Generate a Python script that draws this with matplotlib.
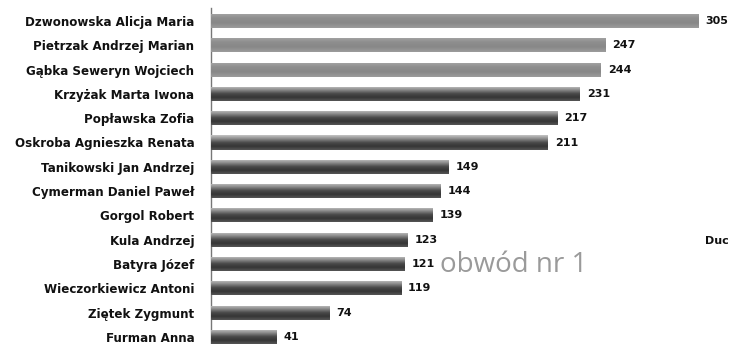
import matplotlib
matplotlib.use("Agg")
import matplotlib.pyplot as plt
import numpy as np
from matplotlib.colors import LinearSegmentedColormap

names = ["Dzwonowska Alicja Maria", "Pietrzak Andrzej Marian", "Gąbka Seweryn Wojciech",
         "Krzyżak Marta Iwona", "Popławska Zofia", "Oskroba Agnieszka Renata",
         "Tanikowski Jan Andrzej", "Cymerman Daniel Paweł", "Gorgol Robert",
         "Kula Andrzej", "Batyra Józef", "Wieczorkiewicz Antoni", "Ziętek Zygmunt",
         "Furman Anna"]
votes = [305, 247, 244, 231, 217, 211, 149, 144, 139, 123, 121, 119, 74, 41]
highlighted = [True, True, True] + [False] * 11

W, H = 731, 344
fig = plt.figure(figsize=(W / 100, H / 100), dpi=100)
fig.patch.set_facecolor("white")
ax = fig.add_axes([211 / W, 0, 1 - 211 / W, 1])

px_per_unit = 1.597
ax.set_xlim(0, (W - 211) / px_per_unit)
step = 24.3
ax.set_ylim((H - 21) / step, -21 / step)

pos = np.arange(len(names))
bars = ax.barh(pos, votes, height=0.58, color=["#8e8e8e" if h else "#555555" for h in highlighted],
               edgecolor="none", zorder=2)

light_cmap = LinearSegmentedColormap.from_list("lg", ["#a6a6a6", "#8e8e8e", "#888888", "#9c9c9c"])
dark_cmap = LinearSegmentedColormap.from_list("dg", ["#c4c4c4", "#8a8a8a", "#4a4a4a", "#353535", "#555555"])
grad = np.linspace(0, 1, 64).reshape(-1, 1)
for b, h in zip(bars, highlighted):
    x0, y0, w, hh = b.get_x(), b.get_y(), b.get_width(), b.get_height()
    im = ax.imshow(grad, cmap=light_cmap if h else dark_cmap, aspect="auto",
                   extent=(x0, x0 + w, y0 + hh, y0), origin="upper",
                   interpolation="bilinear", zorder=3)
    im.set_clip_path(b)

for b, v in zip(bars, votes):
    ax.text(b.get_width() + 7 / px_per_unit, b.get_y() + b.get_height() / 2, str(v),
            ha="left", va="center", fontsize=8, fontweight="heavy", color="#111111", zorder=4)

ax.set_yticks(pos)
ax.set_yticklabels(names, fontsize=8.6, fontweight="bold", color="#111111")
ax.tick_params(axis="y", length=0, pad=12)
ax.set_xticks([])
for s in ["top", "right", "bottom"]:
    ax.spines[s].set_visible(False)
ax.spines["left"].set_color("#777777")
ax.spines["left"].set_linewidth(1.0)
ax.spines["left"].set_bounds((H - 21) / step, (8 - 21) / step)

fig.text(440 / W, 1 - 265 / H, "obwód nr 1", fontsize=20, color="#9a9a9a",
         ha="left", va="center", family="Open Sans")
fig.text(705 / W, 1 - 241 / H, "Duc", fontsize=8, fontweight="bold", color="#111111",
         ha="left", va="center")

fig.savefig("out.png", dpi=100, facecolor="white")
